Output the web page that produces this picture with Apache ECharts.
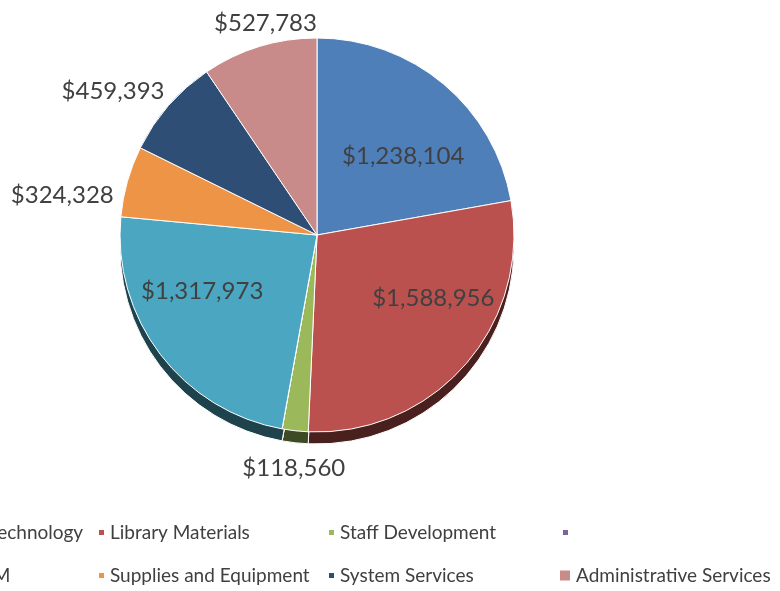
<!DOCTYPE html>
<html>
<head>
<meta charset="utf-8">
<script src="https://cdn.jsdelivr.net/npm/echarts@6/dist/echarts.min.js"></script>
<style>
  html, body { margin: 0; padding: 0; background: #fff; }
  #main { width: 780px; height: 591px; }
</style>
</head>
<body>
<div id="main"></div>
<script>
// budget categories, clockwise from 12 o'clock
var categories = ['Instructional Technology', 'Library Materials', 'Staff Development', ' ',
  'Textbooks & IM', 'Supplies and Equipment', 'System Services', 'Administrative Services']
var amounts = [1238104, 1588956, 118560, 0, 1317973, 324328, 459393, 527783]
var colors = ['#4f7fb9', '#ba514e', '#9bb85a', '#7f62a1', '#4ba7c1', '#ee9446', '#2f4e75', '#c88b8a']

// label nudges (px) so they sit where the original put them
var labelShift = [[21, -1], [40, -4], [56, 30], [0, 0], [-34, -5], [-1, 16], [7, -9], [65, -16]]
var insideIdx = [0, 1, 4]

function darken (hex, k) {
  var n = parseInt(hex.slice(1), 16)
  var r = Math.round((n >> 16 & 255) * k)
  var g = Math.round((n >> 8 & 255) * k)
  var b = Math.round((n & 255) * k)
  return 'rgb(' + r + ',' + g + ',' + b + ')'
}

function money (v) {
  return '$' + v.toString().replace(/\B(?=(\d{3})+(?!\d))/g, ',')
}

var myChart = echarts.init(document.getElementById('main'))

var topData = categories.map(function (name, i) {
  return {
    name: name,
    value: amounts[i],
    itemStyle: { color: colors[i] },
    label: {
      show: amounts[i] > 0,
      position: insideIdx.indexOf(i) >= 0 ? 'inside' : 'outside'
    }
  }
})
var sideData = categories.map(function (name, i) {
  return { name: name, value: amounts[i], itemStyle: { color: darken(colors[i], 0.4) } }
})

var textColor = '#404040'
var font = 'Lato'

function legendCol (names, left, top, size) {
  return {
    data: names,
    orient: 'vertical',
    left: left,
    top: top,
    height: 120,
    icon: 'rect',
    itemWidth: size,
    itemHeight: size,
    itemGap: 24,
    selectedMode: false,
    textStyle: { fontSize: 19, color: textColor, fontFamily: font }
  }
}

var option = {
  backgroundColor: '#fff',
  animation: false,
  legend: [
    legendCol([categories[0], categories[4]], -139, 518, 7),
    legendCol([categories[1], categories[5]], 92, 518, 7),
    legendCol([categories[2], categories[6]], 322, 518, 7),
    legendCol([categories[3]], 556, 518, 7),
    legendCol([categories[7]], 553, 561, 12)
  ],
  series: [
    {
      type: 'pie',
      center: [317, 235],
      radius: 197,
      startAngle: 90,
      clockwise: true,
      z: 2,
      itemStyle: { borderColor: '#fff', borderWidth: 1 },
      label: {
        fontSize: 24,
        color: textColor,
        fontFamily: font,
        formatter: function (p) { return money(p.value) }
      },
      labelLine: { show: false, length: 8, length2: 0 },
      labelLayout: function (p) {
        var s = labelShift[p.dataIndex]
        return { dx: s[0], dy: s[1] }
      },
      data: topData
    },
    {
      // 3D rim under the pie
      type: 'pie',
      silent: true,
      center: [317, 247],
      radius: 197,
      startAngle: 90,
      clockwise: true,
      z: 1,
      label: { show: false },
      labelLine: { show: false },
      itemStyle: { borderColor: '#fff', borderWidth: 1 },
      data: sideData
    }
  ]
}
myChart.setOption(option)
</script>
</body>
</html>
